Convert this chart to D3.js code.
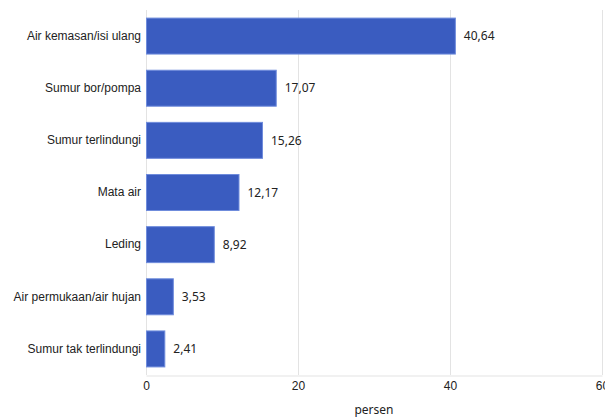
<!DOCTYPE html>
<html lang="id">
<head>
    <meta charset="UTF-8">
    <title>Sumber air minum</title>
    <script src="https://d3js.org/d3.v7.min.js"></script>
    <style>
        body { margin: 0; background: #fff; font-family: "Segoe UI", "Noto Sans", sans-serif; }
        svg text { fill: #222; font-size: 12px; }
    </style>
</head>
<body>
    <div id="chart"></div>
    <script>
        // Data
        const categories = ['Air kemasan/isi ulang', 'Sumur bor/pompa', 'Sumur terlindungi', 'Mata air', 'Leding', 'Air permukaan/air hujan', 'Sumur tak terlindungi'];
        const values = [40.64, 17.07, 15.26, 12.17, 8.92, 3.53, 2.41];
        const xTicks = [0, 20, 40, 60];

        const W = 605, H = 417;
        const margin = { top: 10, right: 3, bottom: 42, left: 146 };
        const width = W - margin.left - margin.right;
        const height = H - margin.top - margin.bottom;

        const svg = d3.select('#chart').append('svg')
            .attr('width', W)
            .attr('height', H);

        const g = svg.append('g')
            .attr('transform', `translate(${margin.left},${margin.top})`);

        const x = d3.scaleLinear().domain([0, 60]).range([0, width]);
        const y = d3.scaleBand().domain(categories).range([0, height]).paddingInner(0.31).paddingOuter(0.155);

        // Gridlines
        g.selectAll('.grid')
            .data(xTicks)
            .enter()
            .append('line')
            .attr('x1', d => x(d) + 0.5)
            .attr('x2', d => x(d) + 0.5)
            .attr('y1', 0)
            .attr('y2', height)
            .attr('stroke', '#e3e3e3');

        // Bottom axis
        const xAxis = g.append('g')
            .attr('transform', `translate(0,${height + 0.5})`)
            .call(d3.axisBottom(x).tickValues(xTicks).tickSize(0).tickPadding(6).tickFormat(d3.format('d')));
        xAxis.select('.domain').attr('stroke', '#e3e3e3');
        xAxis.selectAll('text').style('font-size', '12px').attr('fill', '#222');

        // Left axis labels
        const yAxis = g.append('g')
            .call(d3.axisLeft(y).tickSize(0).tickPadding(5));
        yAxis.select('.domain').remove();
        yAxis.selectAll('text').style('font-size', '12px').attr('fill', '#222');

        // Bars
        g.selectAll('.bar')
            .data(values)
            .enter()
            .append('rect')
            .attr('class', 'bar')
            .attr('x', 0.5)
            .attr('y', (d, i) => y(categories[i]))
            .attr('width', d => x(d))
            .attr('height', y.bandwidth())
            .attr('fill', '#3a5cc0')
            .attr('stroke', '#6f8cdc')
            .attr('stroke-width', 1);

        // Value labels
        const fmt = d => d.toFixed(2).replace('.', ',');
        g.selectAll('.val')
            .data(values)
            .enter()
            .append('text')
            .attr('x', d => x(d) + 9)
            .attr('y', (d, i) => y(categories[i]) + y.bandwidth() / 2)
            .attr('dy', '0.35em')
            .text(fmt);

        // Axis title
        svg.append('text')
            .attr('x', margin.left + width / 2)
            .attr('y', H - 3)
            .attr('text-anchor', 'middle')
            .text('persen');
    </script>
</body>
</html>
